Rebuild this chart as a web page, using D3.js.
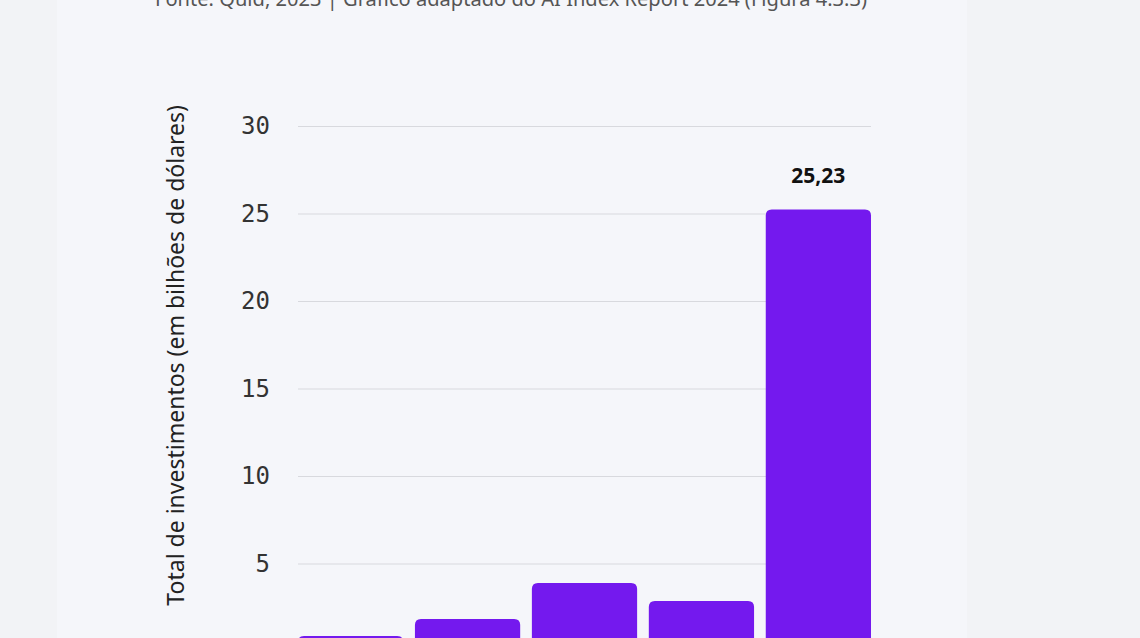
<!DOCTYPE html><html><head><meta charset="utf-8"><script src="https://cdn.jsdelivr.net/npm/d3@7"></script>
<style>body{margin:0;background:#f2f3f6;}svg{display:block}</style></head><body><svg id="c" width="1140" height="638"></svg>
<script>
const categories=["2019","2020","2021","2022","2023"];
const values=[0.86,1.83,3.89,2.86,25.23];
const ticks=[5,10,15,20,25,30];
const svg=d3.select("#c");
svg.append("rect").attr("x",57).attr("y",0).attr("width",910).attr("height",638).attr("fill","#f5f6fa");
svg.append("text").attr("x",155).attr("y",6).attr("font-family","Noto Sans, sans-serif").attr("font-size",19).attr("fill","#555").attr("textLength",712).attr("lengthAdjust","spacingAndGlyphs").text("Fonte: Quid, 2023 | Gráfico adaptado do AI Index Report 2024 (Figura 4.3.3)");
const y=d3.scaleLinear().domain([0,30]).range([651,126]);
const x=d3.scaleBand().domain(categories).range([298,871]).paddingInner(0.1).paddingOuter(0);
const g=svg.append("g").attr("transform","translate(298,0)");
const ax=d3.axisLeft(y).tickValues(ticks).tickSize(-573).tickPadding(28);
g.call(ax);
g.select(".domain").remove();
g.selectAll(".tick line").attr("stroke","#d8d9de");
g.selectAll(".tick text").attr("font-family","DejaVu Sans Mono, monospace").attr("font-size",24).attr("fill","#333");
const r=6;
svg.selectAll("path.bar").data(values).join("path").attr("fill","#7419ee").attr("d",(d,i)=>{const x0=x(categories[i]),w=x.bandwidth(),t=y(d),b=y(0);return `M${x0},${b}V${t+r}Q${x0},${t} ${x0+r},${t}H${x0+w-r}Q${x0+w},${t} ${x0+w},${t+r}V${b}Z`;});
svg.append("text").attr("x",x("2023")+x.bandwidth()/2).attr("y",y(values[4])-26).attr("text-anchor","middle").attr("font-family","Noto Sans, sans-serif").attr("font-weight","bold").attr("font-size",21).attr("fill","#111").text(values[4].toFixed(2).replace(".",","));
svg.append("text").attr("transform",`translate(184,105) rotate(-90)`).attr("text-anchor","end").attr("font-family","Noto Sans, sans-serif").attr("font-size",23).attr("fill","#222").text("Total de investimentos (em bilhões de dólares)");
</script></body></html>
